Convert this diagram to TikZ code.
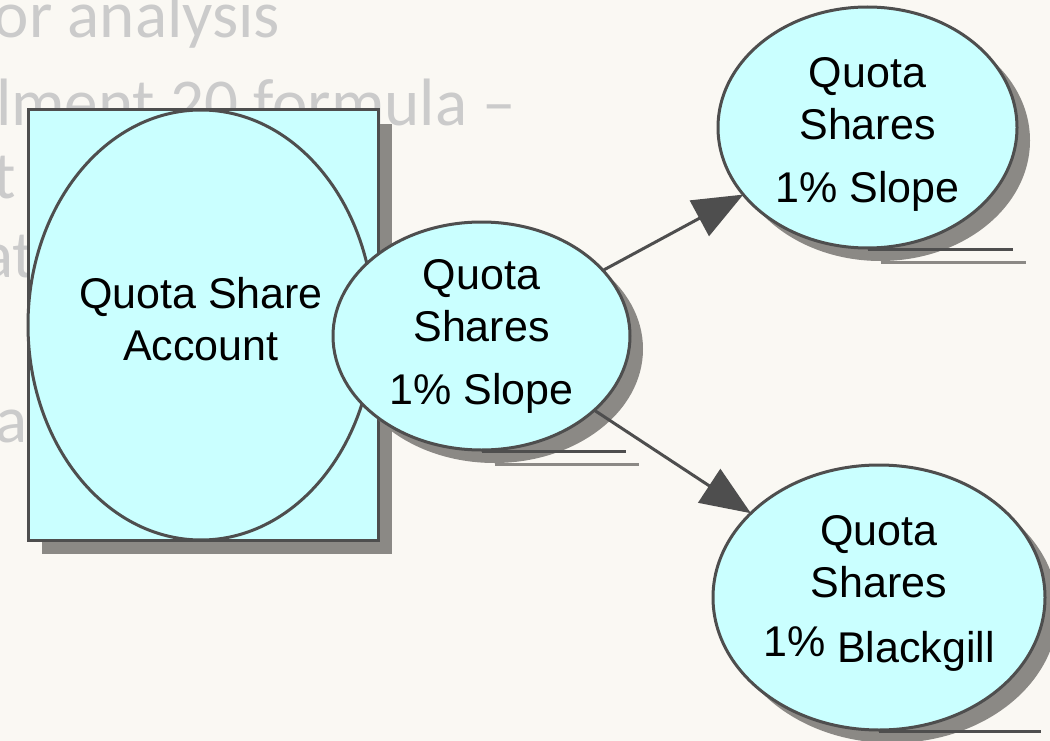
\documentclass[tikz,border=0pt]{standalone}
\usepackage{fontspec}
\setmainfont{Liberation Sans}
\newfontfamily\ghostfont{Carlito}
\usetikzlibrary{shapes.geometric,shadows,arrows.meta,calc}

\definecolor{paper}{RGB}{250,248,243}
\definecolor{bubblefill}{RGB}{202,255,255}
\definecolor{ink}{RGB}{78,78,78}
\definecolor{shade}{RGB}{139,137,133}
\definecolor{ghost}{RGB}{203,203,203}

\begin{document}
\begin{tikzpicture}[x=1pt,y=-1pt,
  ghosttext/.style={font=\ghostfont\fontsize{67}{80}\selectfont, text=ghost,
    inner sep=0pt, outer sep=0pt, anchor=base west},
  castshadow/.style={drop shadow={shadow xshift=#1, shadow yshift=-#1,
    fill=shade, opacity=1}},
  frame/.style={rectangle, draw=ink, line width=3pt, fill=bubblefill,
    inner sep=0pt, outer sep=0pt, castshadow=14pt},
  bubblebase/.style={ellipse, draw=ink, line width=3pt, fill=bubblefill,
    inner sep=0pt, outer sep=0pt, align=center, text=black,
    font=\fontsize{43}{52}\selectfont},
  bubble/.style={bubblebase, castshadow=13pt},
  floorline/.style={draw=ink, line width=3pt},
  floorshade/.style={draw=shade, line width=3pt},
  link/.style={draw=ink, line width=3pt,
    -{Triangle[length=50pt,width=40pt]}}]

\useasboundingbox (0,0) rectangle (1050,741);
\clip (0,0) rectangle (1050,741);
\fill[paper] (0,0) rectangle (1050,741);

% faded slide text behind the diagram
\node[ghosttext] (g1) at (-6,38) {or analysis};
\node[ghosttext] (g2) at (-4,126) {lment 20 formula –};
\node[ghosttext] (g3) at (-6,198) {t};
\node[ghosttext] (g4) at (-19,277) {at};
\node[ghosttext] (g5) at (-5,442) {a};

% account box with its ellipse
\node[frame, minimum width=350pt, minimum height=430pt] (box) at (203,325) {};
\node[bubblebase, minimum width=346pt, minimum height=430pt] (acct) at (201,325)
  {Quota Share\\Account\rule[-12pt]{0pt}{12pt}};

% quota share bubbles
\node[bubble, minimum width=297pt, minimum height=228pt] (qs1) at (481.5,336)
  {Quota\\Shares\\[11pt]1\% Slope};
\node[bubble, minimum width=299pt, minimum height=241pt] (qs2) at (867.5,127.5)
  {\rule{0pt}{44pt}Quota\\Shares\\[11pt]1\% Slope};
\node[bubble, minimum width=332pt, minimum height=265pt] (qs3) at (879,597.5)
  {Quota\\Shares\\[7pt]1\% \raisebox{-6pt}{Blackgill}\rule[-23pt]{0pt}{23pt}};

% base lines under the bubbles
\foreach \n in {qs1,qs2,qs3} {
  \draw[floorshade] ($(\n.south)+(13,14)$) -- ($(\n.east |- \n.south)+(9,14)$);
  \draw[floorline] ($(\n.south)+(0,1.5)$) -- ($(\n.east |- \n.south)+(-4,1.5)$);
}

% connectors
\draw[link] (qs1) -- (qs2);
\draw[link] (qs1) -- (qs3);

\end{tikzpicture}
\end{document}
